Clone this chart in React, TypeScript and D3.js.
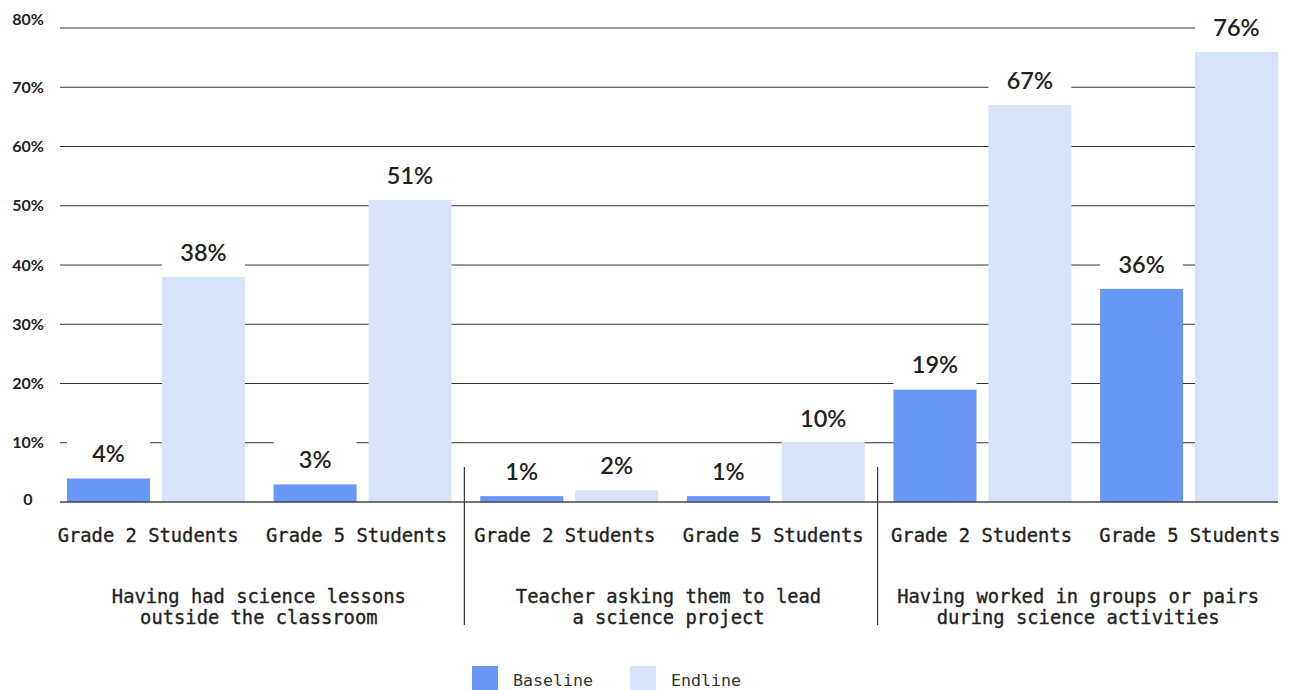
import React from "react";
import * as d3 from "d3";

const groups = [
  ["Having had science lessons", "outside the classroom"],
  ["Teacher asking them to lead", "a science project"],
  ["Having worked in groups or pairs", "during science activities"],
];
const subgroups = [
  "Grade 2 Students",
  "Grade 5 Students",
  "Grade 2 Students",
  "Grade 5 Students",
  "Grade 2 Students",
  "Grade 5 Students",
];
const series = ["Baseline", "Endline"];
const baseline = [4, 3, 1, 1, 19, 36];
const endline = [38, 51, 2, 10, 67, 76];
const yTicks = [0, 10, 20, 30, 40, 50, 60, 70, 80];

const W = 1294;
const H = 690;
const COLORS = ["#6897f7", "#d7e3fc"];
const MONO = "'DejaVu Sans Mono', monospace";
const SANS = "Lato, 'Open Sans', sans-serif";

export default function App() {
  const y = d3.scaleLinear().domain([0, 80]).range([502, 28]);
  const idx = subgroups.map((_, i) => i);
  const xSub = d3.scaleBand<number>().domain(idx).range([67, 1278]).paddingInner(0.139).paddingOuter(0);
  const xInner = d3.scaleBand<string>().domain(series).range([0, xSub.bandwidth()]).paddingInner(0.126);
  const xLabel = d3.scaleBand<number>().domain(idx).range([44, 1294]);
  const xGroup = d3.scaleBand<number>().domain([0, 1, 2]).range([54, 1283]);
  const gridX0 = 60;
  const gridX1 = 1278;
  const values = [baseline, endline];

  const dividers = [1, 3].map((i) => ((xSub(i) as number) + xSub.bandwidth() + (xSub(i + 1) as number)) / 2 - 1.5);

  return (
    <svg
      width={W}
      height={H}
      style={{ position: "absolute", left: 0, top: 0, background: "#fff" }}
    >
      <rect x={0} y={0} width={W} height={H} fill="#fff" />
      {/* gridlines */}
      {yTicks.slice(1).map((t) => (
        <line
          key={t}
          x1={gridX0}
          x2={gridX1}
          y1={y(t)}
          y2={y(t)}
          stroke={t === 80 ? "#777" : "#333"}
          strokeWidth={t === 80 ? 1.5 : 1}
        />
      ))}
      {/* tick labels */}
      {yTicks.map((t, i) => (
        <text
          key={t}
          x={28}
          y={y(t) + (i === yTicks.length - 1 ? -9 : t === 0 ? -3 : 0)}
          dy="0.35em"
          textAnchor="middle"
          fontFamily={SANS}
          fontWeight={700}
          fontSize={16}
          fill="#222"
        >
          {t === 0 ? "0" : `${t}%`}
        </text>
      ))}
      {/* bars */}
      {idx.map((i) =>
        series.map((s, si) => {
          const v = values[si][i];
          const x = (xSub(i) as number) + (xInner(s) as number);
          return (
            <rect
              key={`${i}-${s}`}
              x={x}
              y={y(v)}
              width={xInner.bandwidth()}
              height={y(0) - y(v)}
              fill={COLORS[si]}
            />
          );
        })
      )}
      {/* value labels */}
      {idx.map((i) =>
        series.map((s, si) => {
          const v = values[si][i];
          const x = (xSub(i) as number) + (xInner(s) as number);
          return (
            <g key={`l-${i}-${s}`}>
              <rect x={x} y={y(v) - 44} width={xInner.bandwidth()} height={44} fill="#fff" />
              <text
                x={x + xInner.bandwidth() / 2}
                y={y(v) - 16}
                textAnchor="middle"
                fontFamily={SANS}
                fontWeight={600}
                fontSize={23.5}
                fill="#222"
              >
                {`${v}%`}
              </text>
            </g>
          );
        })
      )}
      {/* baseline axis */}
      <line x1={gridX0} x2={gridX1} y1={y(0)} y2={y(0)} stroke="#444" strokeWidth={1.5} />
      {/* subgroup labels */}
      {idx.map((i) => (
        <text
          key={`s-${i}`}
          x={(xLabel(i) as number) + xLabel.bandwidth() / 2}
          y={541.5}
          textAnchor="middle"
          fontFamily={MONO}
          fontSize={18.8}
          fill="#222"
          stroke="#222"
          strokeWidth={0.35}
        >
          {subgroups[i]}
        </text>
      ))}
      {/* group labels */}
      {groups.map((lines, g) => (
        <text
          key={`g-${g}`}
          x={(xGroup(g) as number) + xGroup.bandwidth() / 2}
          y={603}
          textAnchor="middle"
          fontFamily={MONO}
          fontSize={18.8}
          fill="#222"
          stroke="#222"
          strokeWidth={0.35}
        >
          {lines.map((ln, li) => (
            <tspan key={li} x={(xGroup(g) as number) + xGroup.bandwidth() / 2} dy={li === 0 ? 0 : 21}>
              {ln}
            </tspan>
          ))}
        </text>
      ))}
      {/* dividers */}
      {dividers.map((dx, k) => (
        <line key={`d-${k}`} x1={dx} x2={dx} y1={467} y2={625} stroke="#333" strokeWidth={1.2} />
      ))}
      {/* legend */}
      {series.map((s, si) => {
        const lx = si === 0 ? 472 : 630;
        return (
          <g key={`lg-${s}`}>
            <rect x={lx} y={666} width={26} height={24} fill={COLORS[si]} />
            <text x={lx + 41} y={685.5} fontFamily={MONO} fontSize={16.6} fill="#333">
              {s}
            </text>
          </g>
        );
      })}
    </svg>
  );
}
